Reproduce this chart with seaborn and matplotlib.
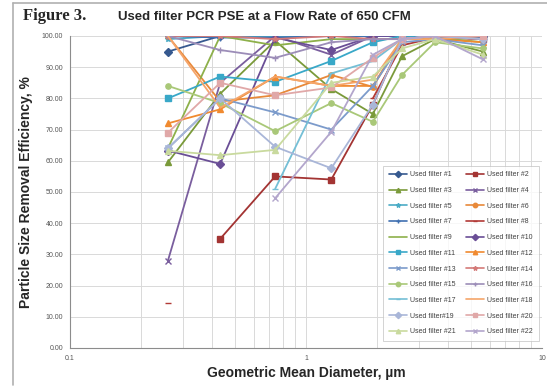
import numpy as np
import pandas as pd
import matplotlib
matplotlib.use("Agg")
import matplotlib.pyplot as plt
import seaborn as sns
from matplotlib.lines import Line2D

nan = np.nan

# geometric mean diameter (um) of each size channel
diameters = [0.26, 0.433, 0.74, 1.28, 1.92, 2.55, 3.52, 5.62]

# removal efficiency (%) for each used filter
filter_1 = [95, 100, 100, 100, 100, 100, 100, 100]
filter_2 = [nan, 35, 55, 54, 78, 99, 100, 99]
filter_3 = [59.5, 81.5, 98.5, 83, 75, 93.5, 99, 95]
filter_4 = [28, 85, 100, 94, 100, 100, 100, 99]
filter_5 = [99, 100, 100, 100, 100, 100, 100, 100]
filter_6 = [100, 79, 81, 87.5, 83.7, 99, 100, 99]
filter_7 = [100, 99.5, 99.5, 100, 100, 100, 100, 99.5]
filter_8 = [14.5, nan, nan, nan, 80, 97, 99.5, 99]
filter_9 = [64, 100, 97, 99, 99, 99, 99.5, 98]
filter_10 = [63.3, 59, 99.5, 95.5, 100, 100, 100, 100]
filter_11 = [80, 87, 85.3, 92, 98, 100, 100, 100]
filter_12 = [72, 76.5, 87, 84, 84, 99, 99, 98]
filter_13 = [64, 80, 75.5, 70, 84, 98, 99, 97]
filter_14 = [100, 100, 99, 100, 99, 99, 100, 99]
filter_15 = [84, 78.5, 69.5, 78.5, 72.5, 87.5, 98, 96]
filter_16 = [100, 95.5, 93, 98, 99, 99, 100, 99]
filter_17 = [nan, nan, 51, 88, 92, 99, 100, 100]
filter_18 = [100, 77, 87, 84, 86, 99, 99, 100]
filter_19 = [64, 80, 64.5, 57.6, 78, 99, 100, 99]
filter_20 = [69, 85, 81, 83.5, 93, 99, 100, 100]
filter_21 = [63.2, 61.8, 63.5, 85, 87, 96, 99, 94]
filter_22 = [nan, nan, 48, 69.3, 94, 99, 100, 92.5]

series = [filter_1, filter_2, filter_3, filter_4, filter_5, filter_6, filter_7,
          filter_8, filter_9, filter_10, filter_11, filter_12, filter_13,
          filter_14, filter_15, filter_16, filter_17, filter_18, filter_19,
          filter_20, filter_21, filter_22]
labels = [f"Used filter #{i}" for i in range(1, 23)]
labels[18] = "Used filter#19"

# excel style colours / markers
colors = ['#36598F', '#A33433', '#7A9A3A', '#7A5E9E', '#4BACC6', '#E8893A',
          '#3F6FB0', '#B23A36', '#8DB04A', '#6A4E96', '#39A8C8', '#F08A30',
          '#7C9BCB', '#D47A78', '#A9C878', '#9C8DB8', '#74BFD6', '#F5A56A',
          '#A9B6D8', '#E0A8A8', '#C9DA9E', '#B3A6CC']
marker_cycle = ['D', 's', '^', 'x', '*', 'o', '+', '_', '']
markers = [marker_cycle[i % 9] for i in range(22)]

W, H = 547, 387
fig = plt.figure(figsize=(W / 100, H / 100), dpi=100)
sns.set_style("white")
plt.rcParams['font.family'] = ['Liberation Sans', 'DejaVu Sans']

ax = fig.add_axes([70 / W, 1 - 348 / H, (542 - 70) / W, (348 - 36) / H])
ax.set_xscale('log')

handles = []
for vals, lab, col, mk in zip(series, labels, colors, markers):
    df = pd.DataFrame({'d': diameters, 'eff': vals})
    # split into contiguous runs so gaps stay open
    ok = df['eff'].notna()
    grp = (~ok).cumsum()
    for _, seg in df[ok].groupby(grp[ok]):
        sns.lineplot(data=seg, x='d', y='eff', ax=ax, color=col, marker=mk,
                     markersize=3.8, markeredgecolor=col, markeredgewidth=1,
                     linewidth=1.3, legend=False, sort=False)
    handles.append(Line2D([], [], color=col, marker=mk, markersize=3.2,
                          markeredgecolor=col, linewidth=1.2, label=lab))

# legend fills row by row (1,2 / 3,4 ...) -> reorder for column-major filling
order = list(range(0, 22, 2)) + list(range(1, 22, 2))
handles = [handles[i] for i in order]

ax.set_xlim(0.1, 10)
ax.set_ylim(0, 100)
ax.set_yticks(np.arange(0, 101, 10))
ax.set_yticklabels([f"{v:.2f}" for v in np.arange(0, 101, 10)])
ax.set_xticks([0.1, 1, 10])
ax.set_xticklabels(["0.1", "1", "10"])
ax.xaxis.set_minor_locator(matplotlib.ticker.LogLocator(base=10, subs=np.arange(2, 10)))
ax.xaxis.set_minor_formatter(matplotlib.ticker.NullFormatter())
ax.tick_params(axis='both', which='major', labelsize=5, colors='#555555',
               length=3, width=0.6, pad=2)
ax.tick_params(axis='x', which='minor', length=0)
ax.grid(True, which='both', color='#d9d9d9', linewidth=0.7)
ax.set_axisbelow(True)
for s in ['top', 'right']:
    ax.spines[s].set_visible(False)
for s in ['left', 'bottom']:
    ax.spines[s].set_color('#8c8c8c')
    ax.spines[s].set_linewidth(0.8)

ax.set_xlabel("Geometric Mean Diameter, µm", fontsize=10, fontweight='bold', labelpad=3)
ax.set_ylabel("Particle Size Removal Efficiency, %", fontsize=10, fontweight='bold', labelpad=6)

leg = ax.legend(handles=handles, ncol=2, loc='lower right',
                bbox_to_anchor=(1.0, 0.012), fontsize=5, frameon=True,
                fancybox=False, edgecolor='#bfbfbf', labelspacing=1.25,
                handlelength=2.6, handletextpad=0.4, columnspacing=1.6,
                borderpad=0.8)
leg.get_frame().set_linewidth(0.6)
for t in leg.get_texts():
    t.set_color('#404040')

fig.text(23 / W, 1 - 16 / H, "Figure 3.", fontsize=12, fontweight='bold',
         family=['Liberation Serif', 'DejaVu Serif'], va='center', ha='left')
fig.text(118 / W, 1 - 17 / H, "Used filter PCR PSE at a Flow Rate of 650 CFM",
         fontsize=9.5, fontweight='bold', va='center', ha='left')

# chart area border
fig.add_artist(Line2D([13 / W, 13 / W], [1 - 3 / H, 1 - 385 / H], color='#b0b0b0', lw=1.2))
fig.add_artist(Line2D([13 / W, 1], [1 - 3 / H, 1 - 3 / H], color='#b0b0b0', lw=1.2))

fig.savefig("out.png", dpi=100)
